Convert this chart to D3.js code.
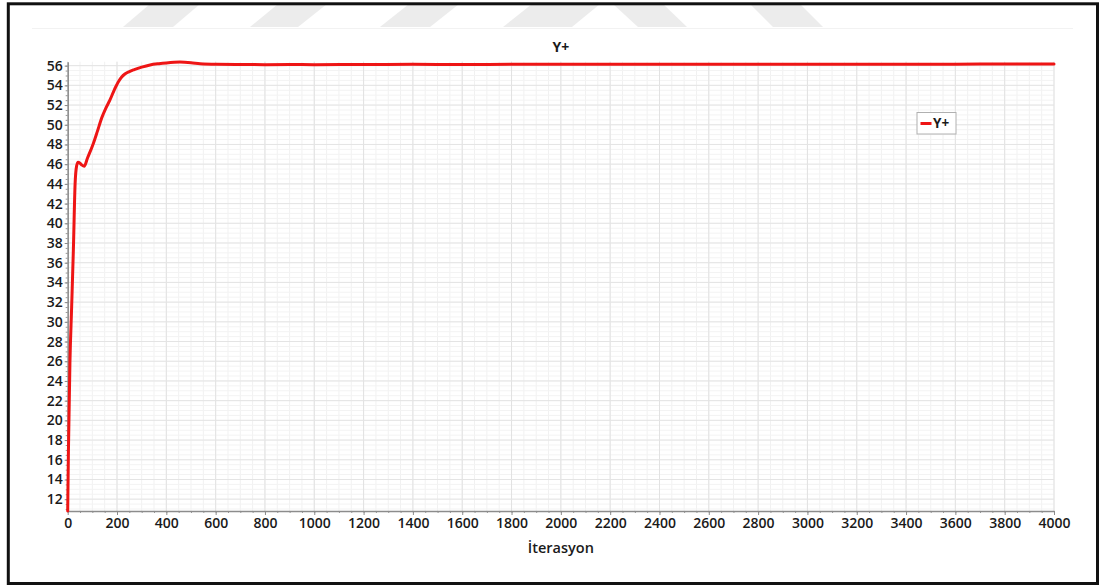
<!DOCTYPE html>
<html>
<head>
<meta charset="utf-8">
<script src="https://cdn.jsdelivr.net/npm/d3@7"></script>
<style>
  html, body { margin: 0; padding: 0; background: #fff; }
  svg { display: block; font-family: "Open Sans", "DejaVu Sans", sans-serif; }
</style>
</head>
<body>
<svg id="chart" width="1101" height="586"></svg>
<script>
// Y+ convergence history over solver iterations
const iterations = [0, 3, 9, 16, 23, 30, 36, 42, 50, 58, 67, 80, 104, 120, 138, 155, 171, 190, 205, 219, 232, 250, 270, 300, 334, 370, 400, 455, 500, 537, 604, 700, 800, 900, 1000, 1200, 1400, 1600, 1800, 2000, 2200, 2400, 2600, 2800, 3000, 3200, 3400, 3600, 3800, 4000];
const yPlus = [10.8, 17.0, 25.8, 31.5, 37.3, 44.0, 45.8, 46.2, 46.1, 45.9, 45.8, 46.6, 48.1, 49.3, 50.7, 51.7, 52.5, 53.6, 54.35, 54.85, 55.15, 55.4, 55.6, 55.85, 56.07, 56.2, 56.28, 56.36, 56.3, 56.2, 56.14, 56.12, 56.1, 56.11, 56.1, 56.12, 56.13, 56.12, 56.13, 56.14, 56.13, 56.14, 56.14, 56.15, 56.14, 56.15, 56.15, 56.15, 56.16, 56.16];
const xTickValues = d3.range(0, 4001, 200);
const yTickValues = d3.range(12, 57, 2);
const xMinorValues = d3.range(0, 4001, 50);
const yMinorValues = d3.range(11, 56.4, 0.5);
const seriesName = "Y+";
const chartTitle = "Y+";
const xTitle = "İterasyon";

const svg = d3.select("#chart");

// Background strip shapes along the top edge
const stripShapes = [
  [[123, 27], [173, 27], [200, 4], [150, 4]],
  [[250, 27], [298, 27], [327, 4], [278, 4]],
  [[380, 27], [430, 27], [459, 4], [409, 4]],
  [[503, 27], [572, 27], [600, 4], [532, 4]],
  [[638, 27], [687, 27], [663, 4], [613, 4]],
  [[773, 27], [823, 27], [800, 4], [750, 4]]
];
svg.append("g").selectAll("path").data(stripShapes).join("path")
  .attr("d", d => "M" + d.join("L") + "Z")
  .attr("fill", "#ececec");
svg.append("line").attr("x1", 32).attr("x2", 1073).attr("y1", 28.5).attr("y2", 28.5)
  .attr("stroke", "#f2f2f2").attr("stroke-width", 1);

// Frame
svg.append("rect").attr("x", 8.3).attr("y", 3.8).attr("width", 1089.2).attr("height", 579.7)
  .attr("fill", "none").attr("stroke", "#111").attr("stroke-width", 3);

const x = d3.scaleLinear().domain([0, 4000]).range([67.7, 1054]);
const y = d3.scaleLinear().domain([10.8, 56.4]).range([511, 61.7]);

// Grid: minor then major
const grid = svg.append("g");
grid.selectAll("line.vminor").data(xMinorValues).join("line").attr("class", "vminor")
  .attr("x1", d => x(d)).attr("x2", d => x(d)).attr("y1", y.range()[0]).attr("y2", y.range()[1])
  .attr("stroke", "#f1f1f1").attr("stroke-width", 1);
grid.selectAll("line.hminor").data(yMinorValues).join("line").attr("class", "hminor")
  .attr("x1", x.range()[0]).attr("x2", x.range()[1]).attr("y1", d => y(d)).attr("y2", d => y(d))
  .attr("stroke", "#f3f3f3").attr("stroke-width", 1);
grid.selectAll("line.vmajor").data(xTickValues).join("line").attr("class", "vmajor")
  .attr("x1", d => x(d)).attr("x2", d => x(d)).attr("y1", y.range()[0]).attr("y2", y.range()[1])
  .attr("stroke", "#e2e2e2").attr("stroke-width", 1);
grid.selectAll("line.hmajor").data(yTickValues).join("line").attr("class", "hmajor")
  .attr("x1", x.range()[0]).attr("x2", x.range()[1]).attr("y1", d => y(d)).attr("y2", d => y(d))
  .attr("stroke", "#e4e4e4").attr("stroke-width", 1);

// Minor ticks
svg.append("g").attr("transform", `translate(0,${y.range()[0]})`)
  .call(d3.axisBottom(x).tickValues(xMinorValues).tickSize(2).tickFormat(""))
  .call(g => g.select(".domain").remove())
  .call(g => g.selectAll("line").attr("stroke", "#999"));
svg.append("g").attr("transform", `translate(${x.range()[0]},0)`)
  .call(d3.axisLeft(y).tickValues(yMinorValues).tickSize(2).tickFormat(""))
  .call(g => g.select(".domain").remove())
  .call(g => g.selectAll("line").attr("stroke", "#999"));

// Major axes
const fmt = d3.format("d");
const xAxis = svg.append("g").attr("transform", `translate(0,${y.range()[0]})`)
  .call(d3.axisBottom(x).tickValues(xTickValues).tickFormat(fmt).tickSize(4).tickPadding(3).tickSizeOuter(0));
const yAxis = svg.append("g").attr("transform", `translate(${x.range()[0]},0)`)
  .call(d3.axisLeft(y).tickValues(yTickValues).tickFormat(fmt).tickSize(3).tickPadding(2).tickSizeOuter(0));
[xAxis, yAxis].forEach(a => {
  a.select(".domain").attr("stroke", "#8c8c8c").attr("stroke-width", 1.5);
  a.selectAll(".tick line").attr("stroke", "#8c8c8c");
  a.selectAll(".tick text").attr("fill", "#1a1a1a")
    .style("font-family", "'Open Sans', sans-serif").style("font-size", "14px").style("font-weight", 600);
});

// Series line
const data = iterations.map((it, i) => ({ it, v: yPlus[i] }));
svg.append("path").datum(data)
  .attr("fill", "none").attr("stroke", "#ee1515").attr("stroke-width", 3)
  .attr("stroke-linejoin", "round").attr("stroke-linecap", "round")
  .attr("d", d3.line().x(d => x(d.it)).y(d => y(d.v)).curve(d3.curveMonotoneX));

// Title
svg.append("text").attr("x", (x.range()[0] + x.range()[1]) / 2).attr("y", 52)
  .attr("text-anchor", "middle").attr("fill", "#1a1a1a")
  .style("font-size", "14px").style("font-weight", 700).text(chartTitle);

// Axis title
svg.append("text").attr("x", (x.range()[0] + x.range()[1]) / 2).attr("y", 553)
  .attr("text-anchor", "middle").attr("fill", "#1a1a1a")
  .style("font-size", "14.5px").style("font-weight", 600).text(xTitle);

// Legend
const legend = svg.append("g").attr("transform", "translate(917,112.5)");
legend.append("rect").attr("x", 0).attr("y", 0).attr("width", 39).attr("height", 21.5)
  .attr("fill", "#fff").attr("stroke", "#b0b0b0").attr("stroke-width", 1);
legend.append("line").attr("x1", 3.5).attr("x2", 14.5).attr("y1", 11).attr("y2", 11)
  .attr("stroke", "#ee1515").attr("stroke-width", 3);
legend.append("text").attr("x", 16).attr("y", 15.8).attr("fill", "#1a1a1a")
  .style("font-size", "13.5px").style("font-weight", 700).text(seriesName);
</script>
</body>
</html>
